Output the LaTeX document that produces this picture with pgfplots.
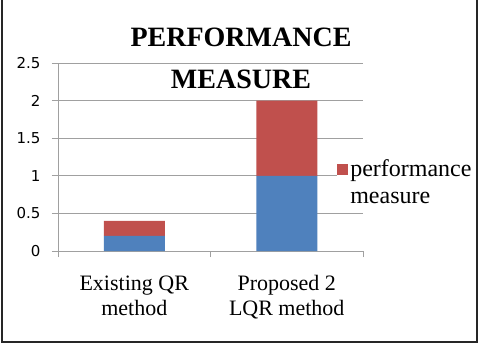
\documentclass[border=0pt]{standalone}
\usepackage{fontspec}
\setmainfont{Liberation Serif}
\newfontfamily\ticksans{DejaVu Sans}
\usepackage{pgfplots}
\pgfplotsset{compat=1.18}
\definecolor{barblue}{HTML}{4F81BD}
\definecolor{barred}{HTML}{C0504D}
\definecolor{gridgray}{HTML}{A0A0A0}
\begin{document}
\begin{tikzpicture}
\useasboundingbox (-58bp,-111bp) rectangle (424bp,251bp);
\fill[white] (-58bp,-111bp) rectangle (424bp,251bp);
\draw[line width=1.5bp, black!85] (-56bp,252bp) -- (-56bp,-91bp) -- (419bp,-91bp) -- (419bp,252bp);
\begin{axis}[
  at={(0bp,0bp)}, anchor=south west,
  scale only axis, width=305bp, height=188bp,
  xmin=-0.5, xmax=1.5, ymin=0, ymax=2.5,
  ybar stacked, bar width=0.4,
  ytick={0,0.5,1,1.5,2,2.5},
  yticklabels={0,0.5,1,1.5,2,2.5},
  ymajorgrids, grid style={gridgray, line width=0.9bp},
  axis x line*=bottom, axis y line*=left,
  axis line style={gridgray, line width=0.9bp, -},
  tick align=outside, major tick length=6bp,
  tick style={gridgray, line width=0.9bp},
  xtick={-0.5,0.5,1.5}, xticklabels={},
  extra x ticks={0,1},
  extra x tick labels={Existing QR\\method, Proposed 2\\LQR method},
  extra x tick style={major tick length=0pt, grid=none},
  xticklabel style={align=center, font=\fontsize{22bp}{25bp}\selectfont, anchor=north, yshift=-21bp},
  yticklabel style={font=\ticksans\fontsize{15bp}{17bp}\selectfont, anchor=east, xshift=-8bp},
  /pgf/number format/assume math mode=true,
  legend style={at={(rel axis cs:0.915,0.497)}, anchor=north west, draw=none, fill=white, inner sep=0pt,
    font=\fontsize{24bp}{27bp}\selectfont, cells={anchor=west, align=left},
    /tikz/every even column/.append style={column sep=6bp}},
  legend image code/.code={\fill[barred] (0bp,7bp) rectangle (11bp,18bp);},
]
\addplot[fill=barblue, draw=none, forget plot] coordinates {(0,0.2) (1,1.0)};
\addplot[fill=barred, draw=none] coordinates {(0,0.2) (1,1.0)};
\addlegendentry{performance\\measure}
\end{axis}
\node[font=\bfseries\fontsize{28bp}{30bp}\selectfont, anchor=base] at (183bp,204bp) {PERFORMANCE};
\node[font=\bfseries\fontsize{28bp}{30bp}\selectfont, anchor=base] at (183bp,162bp) {MEASURE};
\end{tikzpicture}
\end{document}
